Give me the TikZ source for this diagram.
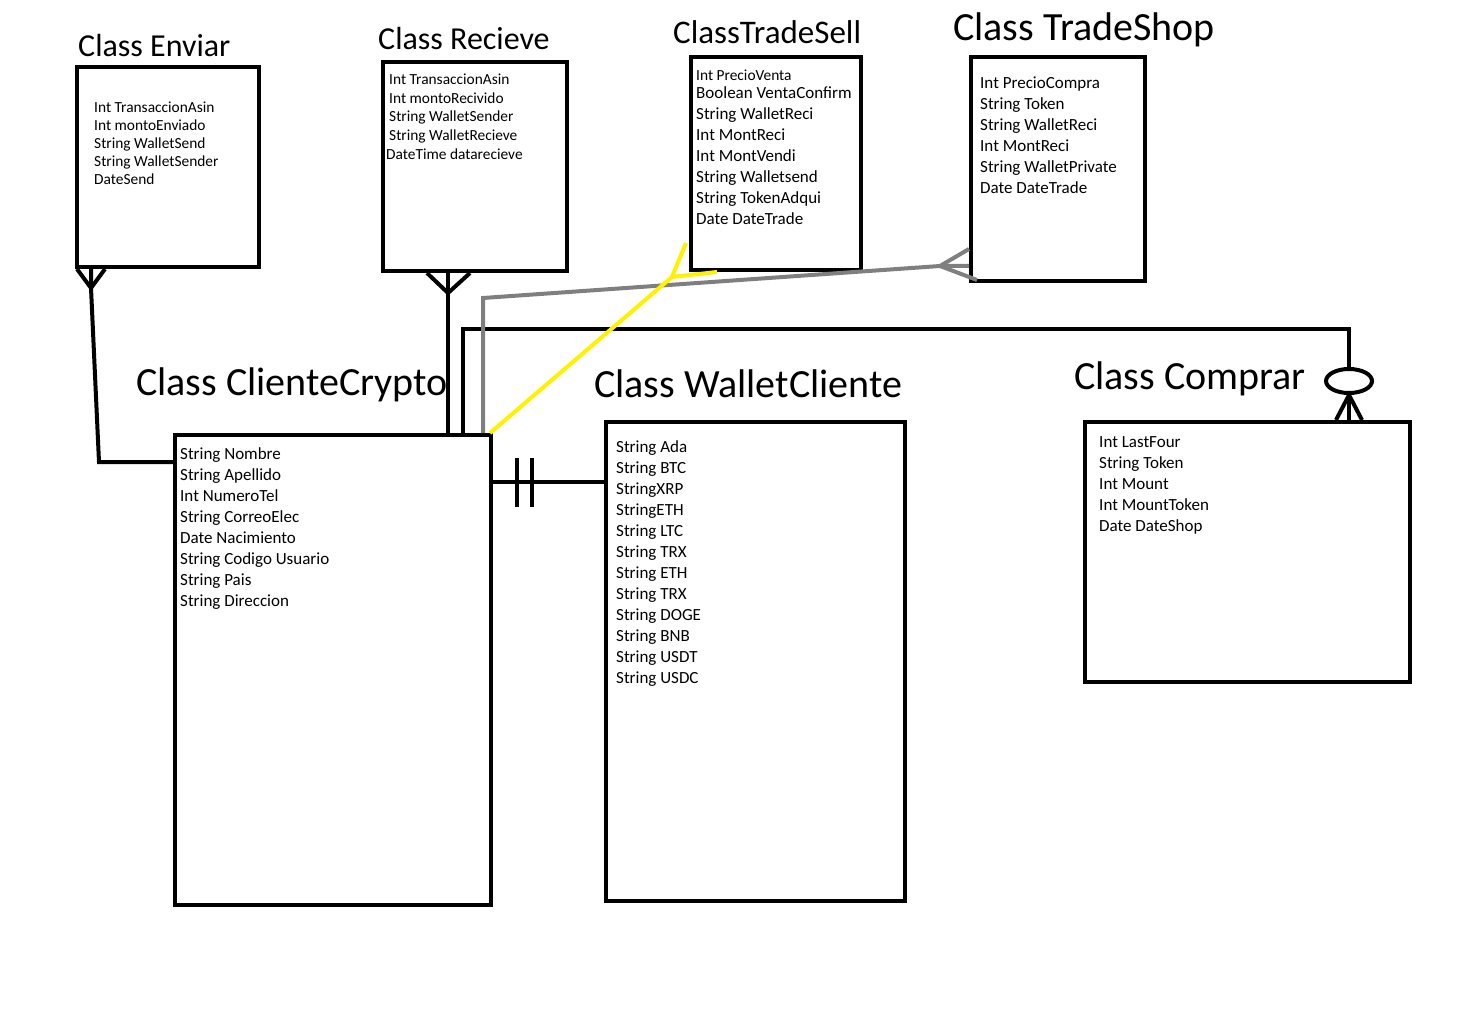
\documentclass[tikz,border=0pt]{standalone}
\usepackage{fontspec}
\setmainfont{Carlito}
\usetikzlibrary{positioning,calc,shapes.geometric}

\definecolor{linegray}{RGB}{127,127,127}
\definecolor{lineyellow}{RGB}{255,242,0}

\tikzset{
  classbox/.style={draw, line width=4pt, anchor=north west, inner sep=0pt},
  classname/.style={anchor=base west, inner sep=0pt, font=\fontsize{#1}{#1}\selectfont},
  classname/.default=40,
  attrs/.style={anchor=north west, inner sep=0pt, align=left},
  link/.style={line width=4pt},
  graylink/.style={line width=4pt, linegray},
  yellowlink/.style={line width=4pt, lineyellow},
  ring/.style={draw, ellipse, line width=4pt, minimum width=46pt, minimum height=24pt, inner sep=0pt},
}

\begin{document}
\begin{tikzpicture}[x=1pt, y=-1pt]
        \useasboundingbox (0,0) rectangle (1458,1032);

        % Class Enviar
        \node[classname=32] (enviarname) at (78,57) {Class Enviar};
        \node[classbox, minimum width=182, minimum height=200] (enviar) at (75,65) {};
        \node[attrs, font=\fontsize{15.4}{18}\selectfont] (enviarattrs) at (94,102) {Int TransaccionAsin\\Int montoEnviado\\String WalletSend\\String WalletSender\\DateSend};

        % Class Recieve
        \node[classname=32] (recievename) at (378,50) {Class Recieve};
        \node[classbox, minimum width=184, minimum height=209] (recieve) at (381,60) {};
        \node[attrs, font=\fontsize{15.4}{18.6}\selectfont] (recieveattrs) at (389,74) {Int TransaccionAsin\\Int montoRecivido\\String WalletSender\\String WalletRecieve\\\hspace*{-3pt}DateTime datarecieve};

        % ClassTradeSell
        \node[classname=33] (tradesellname) at (673,44) {ClassTradeSell};
        \node[classbox, minimum width=170, minimum height=213] (tradesell) at (689,55) {};
        \node[attrs, font=\fontsize{17}{21}\selectfont] (tradesellattrs) at (696,69.5) {{\fontsize{15.4}{18}\selectfont Int PrecioVenta}\\[-3pt]Boolean VentaConfirm\\String WalletReci\\Int MontReci\\Int MontVendi\\String Walletsend\\String TokenAdqui\\Date DateTrade};

        % Class TradeShop
        \node[classname=40] (tradeshopname) at (953,41) {Class TradeShop};
        \node[classbox, minimum width=174, minimum height=224] (tradeshop) at (969,55) {};
        \node[attrs, font=\fontsize{17}{21}\selectfont] (tradeshopattrs) at (980,76.5) {Int PrecioCompra\\String Token\\String WalletReci\\Int MontReci\\String WalletPrivate\\Date DateTrade};

        % Class ClienteCrypto
        \node[classname] (clientename) at (136,395) {Class ClienteCrypto};
        \node[classbox, minimum width=316, minimum height=470] (cliente) at (173,433) {};
        \node[attrs, font=\fontsize{17}{21}\selectfont] (clienteattrs) at (180,447.5) {String Nombre\\String Apellido\\Int NumeroTel\\String CorreoElec\\Date Nacimiento\\String Codigo Usuario\\String Pais\\String Direccion};

        % Class WalletCliente
        \node[classname] (walletname) at (594,397) {Class WalletCliente};
        \node[classbox, minimum width=299, minimum height=479] (wallet) at (604,420) {};
        \node[attrs, font=\fontsize{17}{21}\selectfont] (walletattrs) at (616,440.5) {String Ada\\String BTC\\StringXRP\\StringETH\\String LTC\\String TRX\\String ETH\\String TRX\\String DOGE\\String BNB\\String USDT\\String USDC};

        % Class Comprar
        \node[classname] (comprarname) at (1074,389) {Class Comprar};
        \node[classbox, minimum width=325, minimum height=260] (comprar) at (1083,420) {};
        \node[attrs, font=\fontsize{17}{21}\selectfont] (comprarattrs) at (1099,436.5) {Int LastFour\\String Token\\Int Mount\\Int MountToken\\Date DateShop};

        % Enviar -- ClienteCrypto
        \coordinate (enviarfoot) at (91,288);
        \coordinate (enviarbend) at (99,462);
        \draw[link] (enviarfoot |- enviar.south) -- (enviarfoot) -- (enviarbend) -- (enviarbend -| cliente.west);
        \draw[link] ($(enviarfoot |- enviar.south)+(-14,0)$) -- (enviarfoot) -- ($(enviarfoot |- enviar.south)+(14,0)$);

        % Recieve -- ClienteCrypto
        \coordinate (recievefoot) at (448,293);
        \draw[link] (recievefoot |- recieve.south) -- (recievefoot |- cliente.north);
        \draw[link] ($(recievefoot |- recieve.south)+(-21,0)$) -- (recievefoot) -- ($(recievefoot |- recieve.south)+(22,0)$);

        % Comprar -- ClienteCrypto
        \node[ring] (comprarring) at (1349,381) {};
        \coordinate (comprarknee) at (463,329);
        \draw[link] (comprarknee |- cliente.north) -- (comprarknee) -- (comprarknee -| comprarring.north) -- (comprarring.north);
        \draw[link] ($(comprarring.south |- comprar.north)+(-13,0)$) -- (comprarring.south) -- ($(comprarring.south |- comprar.north)+(13,0)$);
        \draw[link] (comprarring.south) -- (comprarring.south |- comprar.north);

        % TradeShop -- ClienteCrypto (gray)
        \coordinate (graycorner) at (483,298);
        \coordinate (shoptip) at (940,266);
        \draw[graylink] (graycorner |- cliente.north) -- (graycorner) -- (shoptip) -- (shoptip -| tradeshop.west);
        \draw[graylink] ($(shoptip -| tradeshop.west)+(0,-17)$) -- (shoptip) -- ($(shoptip -| tradeshop.west)+(8,14)$);

        % TradeSell -- ClienteCrypto (yellow)
        \coordinate (selltip) at (672,277);
        \draw[yellowlink] ($(cliente.north east)+(-3,0)$) -- (selltip);
        \draw[yellowlink] ($(tradesell.west |- 0,243)+(-3,0)$) -- (selltip) -- (717,272);

        % ClienteCrypto -- WalletCliente (one and only one)
        \coordinate (walletlink) at ($(cliente.north east)+(0,49)$);
        \draw[link] (walletlink) -- (walletlink -| wallet.west);
        \draw[link] ($(walletlink)+(24,-24)$) -- ($(walletlink)+(24,25)$);
        \draw[link] ($(walletlink)+(39,-24)$) -- ($(walletlink)+(39,25)$);
\end{tikzpicture}
\end{document}
